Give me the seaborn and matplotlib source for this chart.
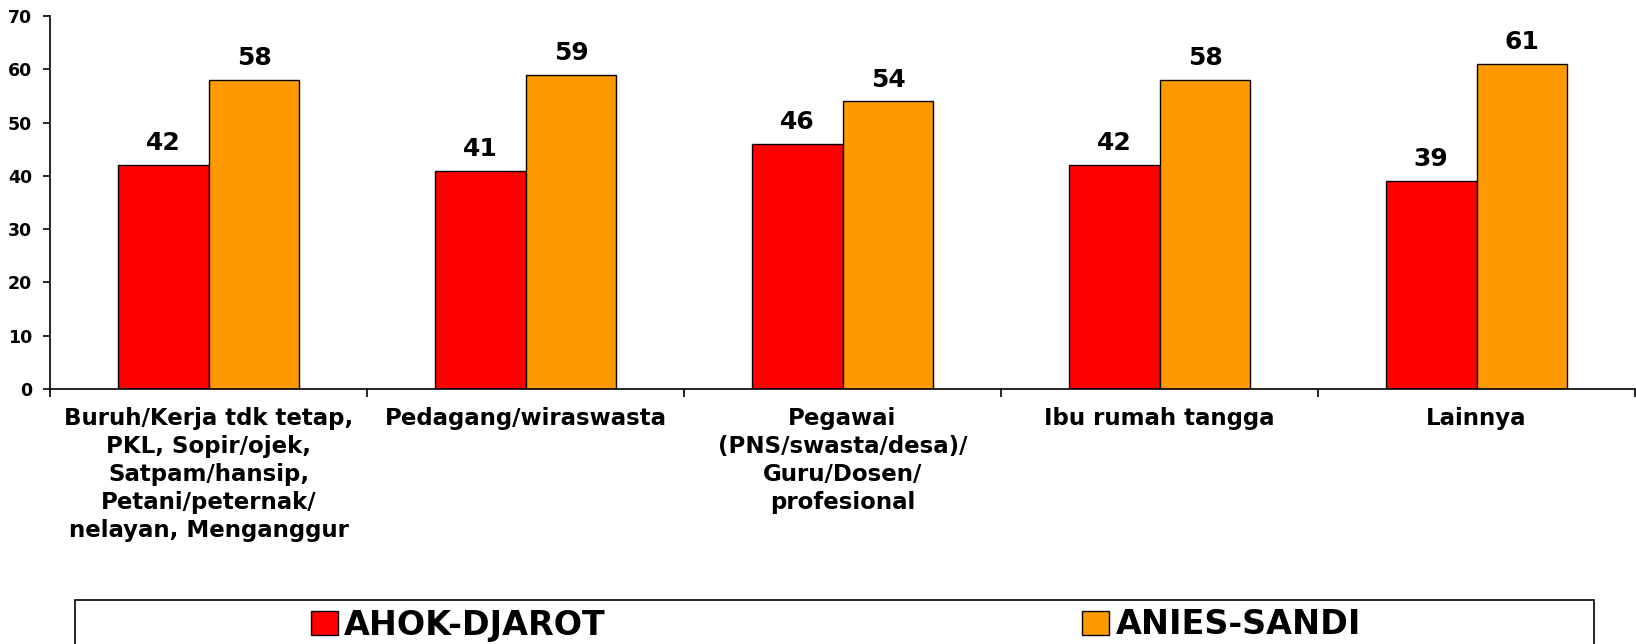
import matplotlib
matplotlib.use("Agg")
import matplotlib.pyplot as plt
from matplotlib.patches import Rectangle
import seaborn as sns
import pandas as pd

categories = [
    "Buruh/Kerja tdk tetap,\nPKL, Sopir/ojek,\nSatpam/hansip,\nPetani/peternak/\nnelayan, Menganggur",
    "Pedagang/wiraswasta",
    "Pegawai\n(PNS/swasta/desa)/\nGuru/Dosen/\nprofesional",
    "Ibu rumah tangga",
    "Lainnya",
]
series_names = ["AHOK-DJAROT", "ANIES-SANDI"]
ahok = [42, 41, 46, 42, 39]
anies = [58, 59, 54, 58, 61]
colors = ["#FF0000", "#FF9900"]
yticks = [0, 10, 20, 30, 40, 50, 60, 70]

df = pd.DataFrame({
    "cat": categories * 2,
    "series": [series_names[0]] * len(categories) + [series_names[1]] * len(categories),
    "value": ahok + anies,
})

sns.set_style("white")
plt.rcParams["font.family"] = ["DejaVu Sans"]
plt.rcParams["font.weight"] = "bold"
plt.rcParams["text.color"] = "black"
plt.rcParams["xtick.color"] = "black"
plt.rcParams["ytick.color"] = "black"
plt.rcParams["xtick.labelcolor"] = "black"
plt.rcParams["ytick.labelcolor"] = "black"

fig = plt.figure(figsize=(16.36, 6.44), dpi=100)
ax = fig.add_axes([50 / 1636, 1 - 389 / 644, (1635 - 50) / 1636, (389 - 16) / 644])

sns.barplot(data=df, x="cat", y="value", hue="series", order=categories,
            hue_order=series_names, palette=colors, width=0.574, gap=0,
            edgecolor="black", linewidth=1.0, saturation=1, ax=ax, errorbar=None)

for cont in ax.containers:
    ax.bar_label(cont, fmt="%d", padding=7, fontsize=18, fontweight="bold", color="black")

ax.set_xlim(-0.5, len(categories) - 0.5)
ax.set_ylim(0, 70)
ax.set_yticks(yticks)
ax.set_xlabel("")
ax.set_ylabel("")
for s in ["top", "right"]:
    ax.spines[s].set_visible(False)
for s in ["left", "bottom"]:
    ax.spines[s].set_color("black")
    ax.spines[s].set_linewidth(1.2)

ax.tick_params(axis="y", which="major", length=5, width=1.2, color="black", pad=8,
               labelsize=12.5, left=True, labelcolor="black")
ax.set_yticklabels([str(v) for v in yticks], fontweight="bold", color="black")
ax.set_xticks([i - 0.5 for i in range(len(categories) + 1)], minor=True)
ax.tick_params(axis="x", which="minor", length=6, width=1.2, color="black", bottom=True)
ax.tick_params(axis="x", which="major", length=0, pad=13, labelsize=16.5, labelcolor="black")
ax.set_xticklabels(categories, fontweight="bold", linespacing=1.28, va="top", ha="center",
                   color="black")

handles, labels = ax.get_legend_handles_labels()
if ax.get_legend() is not None:
    ax.get_legend().remove()

fig.patches.append(Rectangle((75 / 1636, -0.2), (1594 - 75) / 1636, 0.2 + (1 - 600 / 644),
                             transform=fig.transFigure, facecolor="white",
                             edgecolor="black", linewidth=1.2, zorder=0))
leg = fig.legend(handles, labels, loc="center", bbox_to_anchor=(836 / 1636, 1 - 625 / 644),
                 ncol=2, frameon=False, prop={"size": 24, "weight": "bold"},
                 handlelength=0.8, handleheight=0.75, handletextpad=0.2, columnspacing=14.3)
for t in leg.get_texts():
    t.set_color("black")

fig.savefig("out.png", dpi=100)
